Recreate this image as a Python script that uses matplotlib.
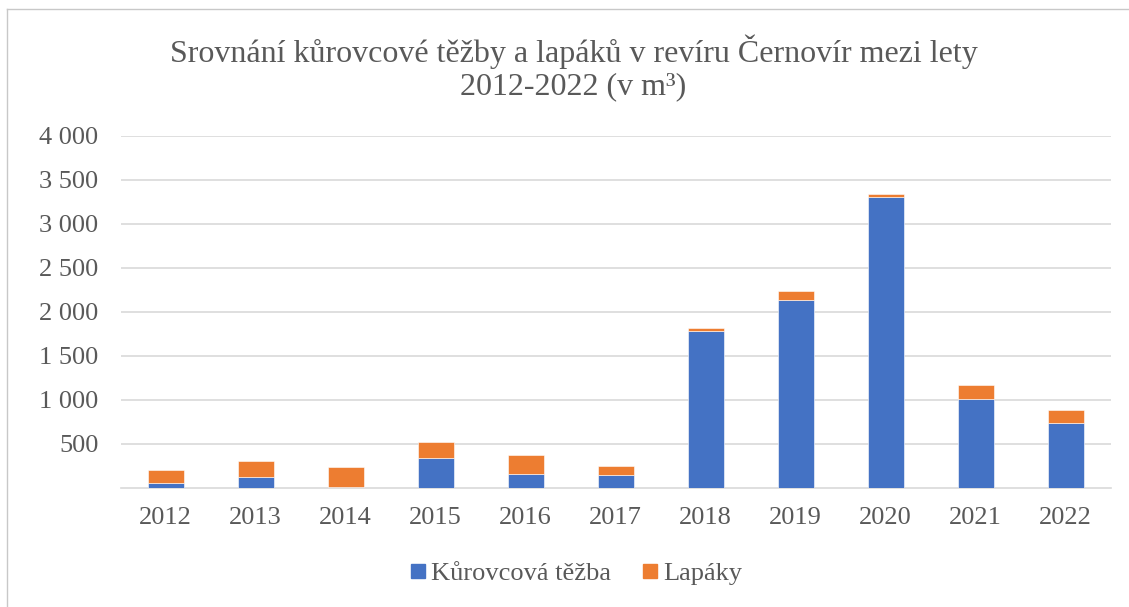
import matplotlib.pyplot as plt
import numpy as np
from matplotlib.lines import Line2D

years = ['2012', '2013', '2014', '2015', '2016', '2017', '2018', '2019', '2020', '2021', '2022']
kurovcova_tezba = [50, 122, 10, 342, 160, 145, 1777, 2138, 3303, 1010, 740]
lapaky = [151, 185, 229, 178, 209, 105, 42, 99, 39, 160, 145]
yticks = [500, 1000, 1500, 2000, 2500, 3000, 3500, 4000]
ytick_labels = ['500', '1 000', '1 500', '2 000', '2 500', '3 000', '3 500', '4 000']

blue = '#4472C4'
orange = '#ED7D31'
grey_text = '#595959'
grid_col = '#d9d9d9'

plt.rcParams['font.family'] = ['Liberation Serif', 'DejaVu Serif']

fig = plt.figure(figsize=(11.29, 6.07), dpi=100)
ax = fig.add_axes([0.1069, 0.1965, 0.8769, 0.5795])

x = np.arange(len(years))
ax.bar(x, kurovcova_tezba, width=0.4, color=blue, edgecolor='white', linewidth=0.4,
       label='Kůrovcová těžba', zorder=3)
ax.bar(x, lapaky, width=0.4, bottom=kurovcova_tezba, color=orange, edgecolor='white',
       linewidth=0.4, label='Lapáky', zorder=3)

ax.set_xlim(-0.5, len(years) - 0.5)
ax.set_ylim(0, 4000)
ax.set_xticks(x)
ax.set_xticklabels(years)
ax.set_yticks(yticks)
ax.set_yticklabels(ytick_labels)
ax.tick_params(length=0, labelsize=19, labelcolor=grey_text)
ax.tick_params(axis='y', pad=16)
ax.tick_params(axis='x', pad=14)
ax.grid(axis='y', color=grid_col, linewidth=1.2, zorder=0)
for s in ['top', 'right', 'left']:
    ax.spines[s].set_visible(False)
ax.spines['bottom'].set_color(grid_col)
ax.spines['bottom'].set_linewidth(1.2)

fig.text(0.508, 0.888, 'Srovnání kůrovcové těžby a lapáků v revíru Černovír mezi lety\n2012-2022 (v m³)',
         ha='center', va='center', fontsize=23, color=grey_text, linespacing=1.15)

handles = [Line2D([0], [0], marker='s', color='none', markerfacecolor=blue, markeredgecolor=blue, markersize=9.5),
           Line2D([0], [0], marker='s', color='none', markerfacecolor=orange, markeredgecolor=orange, markersize=9.5)]
leg = fig.legend(handles, ['Kůrovcová těžba', 'Lapáky'], loc='center', bbox_to_anchor=(0.508, 0.056),
                 ncol=2, frameon=False, fontsize=19, handletextpad=0.0, columnspacing=0.95, handlelength=1.0)
for t in leg.get_texts():
    t.set_color(grey_text)

# chart frame
fig.add_artist(Line2D([0.006, 1.0], [0.985, 0.985], color='#c8c8c8', linewidth=1.0))
fig.add_artist(Line2D([0.006, 0.006], [0.0, 0.985], color='#c8c8c8', linewidth=1.0))

fig.savefig('out.png', dpi=100)
